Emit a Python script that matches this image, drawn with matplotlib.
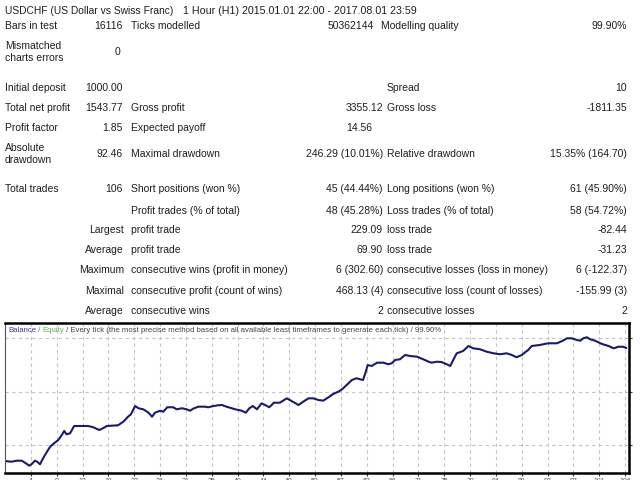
import matplotlib.pyplot as plt
import numpy as np

plt.rcParams['font.family'] = ['Liberation Sans', 'DejaVu Sans']

# report header
symbol = "USDCHF (US Dollar vs Swiss Franc)"
period = "1 Hour (H1) 2015.01.01 22:00 - 2017.08.01 23:59"

# upper block of the report
col1_labels = ["Bars in test", "Mismatched\ncharts errors", "Initial deposit", "Total net profit",
               "Profit factor", "Absolute\ndrawdown", "Total trades"]
col1_values = ["16116", "0", "1000.00", "1543.77", "1.85", "92.46", "106"]
col2_labels = ["Ticks modelled", "", "", "Gross profit", "Expected payoff",
               "Maximal drawdown", "Short positions (won %)"]
col2_values = ["50362144", "", "", "3355.12", "14.56", "246.29 (10.01%)", "45 (44.44%)"]
col3_labels = ["Modelling quality", "", "Spread", "Gross loss", "", "Relative drawdown",
               "Long positions (won %)"]
col3_values = ["99.90%", "", "10", "-1811.35", "", "15.35% (164.70)", "61 (45.90%)"]

# lower block of the report
stat_kind = ["", "Largest", "Average", "Maximum", "Maximal", "Average"]
profit_labels = ["Profit trades (% of total)", "profit trade", "profit trade",
                 "consecutive wins (profit in money)", "consecutive profit (count of wins)",
                 "consecutive wins"]
profit_values = ["48 (45.28%)", "229.09", "69.90", "6 (302.60)", "468.13 (4)", "2"]
loss_labels = ["Loss trades (% of total)", "loss trade", "loss trade",
               "consecutive losses (loss in money)", "consecutive loss (count of losses)",
               "consecutive losses"]
loss_values = ["58 (54.72%)", "-82.44", "-31.23", "6 (-122.37)", "-155.99 (3)", "2"]

# balance curve (trade number, balance)
trade = [0, 1.1, 2.0, 2.85, 3.4, 4.15, 4.56, 5.12, 5.5, 5.97, 6.5, 7.1, 7.7, 8.5, 9.1, 9.7,
         10.1, 10.5, 11.1, 11.8, 12.8, 14.2, 15.1, 16.1, 16.8, 17.4, 19.3, 20.2, 21.0, 21.5,
         22.2, 22.8, 23.6, 24.5, 25.1, 25.6, 26.5, 27.0, 27.7, 28.7, 29.3, 30.2, 31.0, 31.6,
         32.1, 33.0, 34.1, 34.7, 35.6, 36.4, 37.0, 37.8, 39.3, 40.4, 41.1, 41.7, 42.3, 43.0,
         43.8, 44.4, 45.1, 45.9, 46.9, 48.1, 48.9, 50.1, 50.9, 51.8, 52.6, 53.5, 54.3, 55.2,
         56.0, 56.9, 57.6, 58.3, 59.2, 60.0, 61.1, 61.5, 61.9, 62.6, 63.5, 64.6, 65.4, 66.0,
         66.6, 67.4, 68.3, 69.1, 70.3, 71.4, 72.3, 72.8, 73.7, 74.5, 75.4, 76.0, 76.5, 77.1,
         78.2, 79.1, 79.9, 81.1, 82.2, 83.4, 84.5, 85.6, 86.5, 87.3, 88.2, 88.9, 89.3, 89.9,
         91.3, 92.7, 94.2, 95.2, 95.9, 96.7, 97.6, 98.2, 98.7, 99.3, 99.9, 100.7, 101.9,
         103.0, 103.9, 104.7, 105.5, 106.0]
balance = [1000, 990, 1004, 1004, 977, 936, 959, 1004, 990, 955, 1037, 1119, 1195, 1250, 1287,
           1355, 1410, 1365, 1378, 1478, 1478, 1478, 1460, 1423, 1451, 1478, 1488, 1537, 1605,
           1638, 1751, 1720, 1706, 1660, 1605, 1660, 1687, 1673, 1734, 1734, 1706, 1720, 1706,
           1687, 1714, 1742, 1742, 1734, 1751, 1761, 1765, 1742, 1706, 1687, 1660, 1720, 1751,
           1706, 1788, 1765, 1734, 1796, 1796, 1856, 1820, 1765, 1810, 1856, 1856, 1833, 1824,
           1870, 1915, 1947, 1984, 2038, 2106, 2130, 2106, 2198, 2311, 2298, 2343, 2343, 2321,
           2335, 2380, 2389, 2448, 2434, 2425, 2389, 2356, 2343, 2356, 2352, 2321, 2298, 2380,
           2471, 2503, 2571, 2539, 2526, 2493, 2471, 2458, 2471, 2448, 2417, 2448, 2493, 2516,
           2571, 2585, 2608, 2608, 2643, 2676, 2676, 2653, 2643, 2676, 2690, 2662, 2643, 2598,
           2571, 2539, 2561, 2561, 2543.77]

legend_parts = ["Balance", " / ", "Equity", " / Every tick (the most precise method based on all "
                "available least timeframes to generate each tick) / 99.90%"]
legend_colors = ["#3b3b8c", "#666666", "#62b062", "#444444"]

fig = plt.figure(figsize=(6.4, 4.8), dpi=100)
W, H = 640.0, 480.0
FS = 7.5
TC = '#1e1e1e'


def put(x, y, s, ha='left', fs=FS):
    fig.text(x / W, 1 - y / H, s, ha=ha, va='center', fontsize=fs, color=TC,
             linespacing=1.25, multialignment='left')


put(5, 11, symbol, fs=7.4)
put(183, 11, period, fs=7.7)

row_y = [26, 52, 88, 108, 128, 154, 189]
c2_right = [374, 0, 0, 383, 372, 383, 383]
c3_left = [381, 0, 387, 387, 0, 387, 387]
for i in range(len(col1_labels)):
    put(5, row_y[i], col1_labels[i])
    put(120 if i == 1 else 123, row_y[i], col1_values[i], 'right')
    if col2_labels[i]:
        put(131, row_y[i], col2_labels[i])
    if col2_values[i]:
        put(c2_right[i], row_y[i], col2_values[i], 'right')
    if col3_labels[i]:
        put(c3_left[i], row_y[i], col3_labels[i])
    if col3_values[i]:
        put(627, row_y[i], col3_values[i], 'right')

stat_y = [211, 230, 250, 270, 291, 311]
for i in range(len(stat_kind)):
    if stat_kind[i]:
        put(124, stat_y[i], stat_kind[i], 'right')
    put(131, stat_y[i], profit_labels[i])
    put(383, stat_y[i], profit_values[i], 'right')
    put(387, stat_y[i], loss_labels[i])
    put(627, stat_y[i], loss_values[i], 'right')

# balance graph
ax = fig.add_axes([5 / W, 1 - 473 / H, 624 / W, 150 / H])
ax.plot(trade, balance, color='#1b1b6a', lw=1.5, solid_joinstyle='round')
ax.set_xlim(0, 106.5)
ax.set_ylim(836, 2885)

xt = np.arange(1, 25) * 4.41
ax.set_xticks(xt)
ax.set_xticklabels([str(int(round(v))) for v in xt], fontsize=5, color='#555555')
yt = [1215, 1946, 2677]
ax.set_yticks(yt)
ax.yaxis.tick_right()
ax.set_yticklabels([])
ax.tick_params(axis='x', length=2, pad=1.5, color='#333333')
ax.tick_params(axis='y', length=2, color='#333333')
ax.grid(True, color='#c4c4c4', lw=0.8, ls=(0, (3, 3)))
for side in ['top', 'bottom', 'right']:
    ax.spines[side].set_linewidth(1.8)
    ax.spines[side].set_color('black')
ax.spines['left'].set_linewidth(0.8)
ax.spines['left'].set_color('#555555')

prev = ax.text(3 / 624, 1 - 8 / 150, legend_parts[0], transform=ax.transAxes,
               fontsize=5.55, color=legend_colors[0], va='center', ha='left')
for s, c in zip(legend_parts[1:], legend_colors[1:]):
    prev = ax.annotate(s, xy=(1, 0), xycoords=prev, va='bottom', ha='left',
                       fontsize=5.55, color=c)

fig.savefig('out.png', dpi=100)
